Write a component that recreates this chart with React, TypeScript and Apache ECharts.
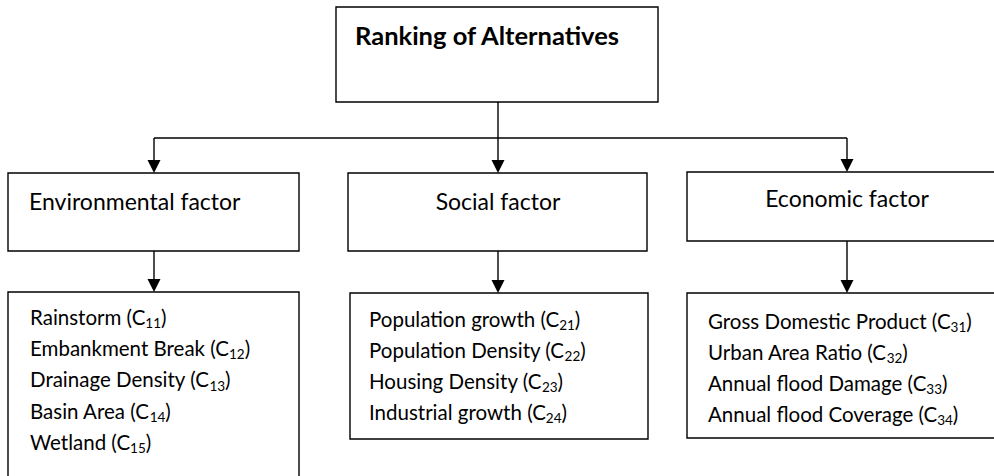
import React, { useEffect, useRef } from "react";
import * as echarts from "echarts";

// ---- content ----
const title = "Ranking of Alternatives";
const factors = ["Environmental factor", "Social factor", "Economic factor"];
const envNames = ["Rainstorm", "Embankment Break", "Drainage Density", "Basin Area", "Wetland"];
const envCodes = ["11", "12", "13", "14", "15"];
const socNames = ["Population growth", "Population Density", "Housing Density", "Industrial growth"];
const socCodes = ["21", "22", "23", "24"];
const ecoNames = ["Gross Domestic Product", "Urban Area Ratio", "Annual flood Damage", "Annual flood Coverage"];
const ecoCodes = ["31", "32", "33", "34"];

const FONT = "Lato, 'Open Sans', sans-serif";
const LW = 1.4;

function measure(text: string, size: number, weight = "normal"): number {
  const c = document.createElement("canvas").getContext("2d")!;
  c.font = `${weight} ${size}px Lato`;
  return c.measureText(text).width;
}

function txt(x: number, baseline: number, text: string, size: number, align = "left", weight = "normal") {
  return {
    type: "text",
    x,
    y: baseline - size * 0.3,
    silent: true,
    style: {
      text,
      fill: "#000",
      font: `${weight} ${size}px ${FONT}`,
      align,
      verticalAlign: "middle",
    },
  };
}

function item(x: number, baseline: number, name: string, code: string) {
  const size = 20.5;
  const sub = 13.5;
  const main = `${name} (C`;
  const w1 = measure(main, size);
  const w2 = measure(code, sub);
  return [
    txt(x, baseline, main, size),
    txt(x + w1, baseline + 4, code, sub),
    txt(x + w1 + w2, baseline, ")", size),
  ];
}

function box(x1: number, y1: number, x2: number, y2: number) {
  return {
    type: "rect",
    silent: true,
    shape: { x: x1, y: y1, width: x2 - x1, height: y2 - y1 },
    style: { fill: "#fff", stroke: "#000", lineWidth: LW },
  };
}

function line(x1: number, y1: number, x2: number, y2: number) {
  return {
    type: "line",
    silent: true,
    shape: { x1, y1, x2, y2 },
    style: { stroke: "#000", lineWidth: LW },
  };
}

function arrow(x: number, y1: number, y2: number) {
  const h = 13;
  const w = 6.5;
  return [
    line(x, y1, x, y2 - h + 1),
    {
      type: "polygon",
      silent: true,
      shape: { points: [[x - w, y2 - h], [x + w, y2 - h], [x, y2]] },
      style: { fill: "#000" },
    },
  ];
}

export default function App() {
  const ref = useRef<HTMLDivElement>(null);
  useEffect(() => {
    if (!ref.current) return;
    const chart = echarts.init(ref.current, null, { renderer: "svg" });
    const els: any[] = [];
    // top box
    els.push(box(336, 7, 658, 102));
    els.push(txt(355, 43, title, 25.5, "left", "bold"));
    // connectors
    els.push(line(498, 102, 498, 138));
    els.push(line(154, 138, 847, 138));
    els.push(...arrow(154, 138, 173));
    els.push(...arrow(498, 138, 173));
    els.push(...arrow(847, 138, 172));
    // factor boxes
    els.push(box(8, 173, 299, 251));
    els.push(txt(29, 208, factors[0], 23));
    els.push(box(348, 173, 647, 251));
    els.push(txt(498, 208, factors[1], 23, "center"));
    els.push(box(687, 172, 1000, 241));
    els.push(txt(847, 205, factors[2], 23, "center"));
    // arrows to lists
    els.push(...arrow(154, 251, 292));
    els.push(...arrow(498, 251, 293));
    els.push(...arrow(847, 241, 293));
    // list boxes
    els.push(box(8, 292, 299, 490));
    els.push(box(350, 293, 648, 439));
    els.push(box(687, 293, 1000, 438));
    envNames.forEach((n, i) => els.push(...item(30, 323 + i * 31.3, n, envCodes[i])));
    socNames.forEach((n, i) => els.push(...item(369, 325 + i * 31.1, n, socCodes[i])));
    ecoNames.forEach((n, i) => els.push(...item(708, 327 + i * 31.1, n, ecoCodes[i])));

    chart.setOption({
      animation: false,
      backgroundColor: "#fff",
      graphic: { elements: els },
    });
    return () => chart.dispose();
  }, []);
  return (
    <div
      ref={ref}
      style={{ position: "fixed", left: 0, top: 0, width: 994, height: 476, background: "#fff" }}
    />
  );
}
